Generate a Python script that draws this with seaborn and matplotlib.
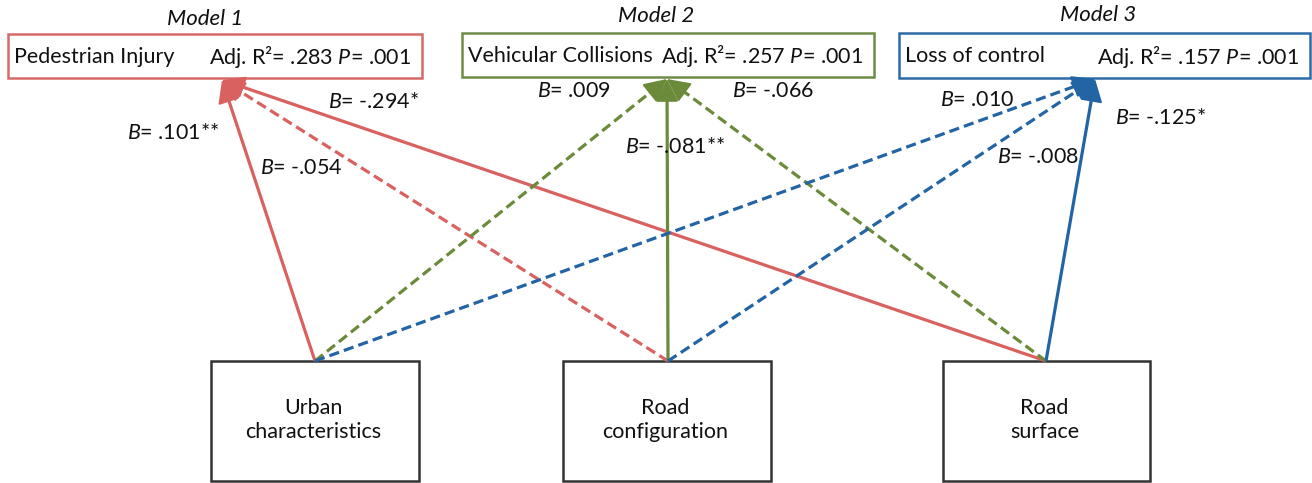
import numpy as np
import matplotlib
matplotlib.use("Agg")
import matplotlib.pyplot as plt
from matplotlib.patches import Rectangle
import seaborn as sns

# ---------------- data ----------------
models = ["Model 1", "Model 2", "Model 3"]
outcomes = ["Pedestrian Injury", "Vehicular Collisions", "Loss of control"]
adj_r2 = [".283", ".257", ".157"]
p_values = [".001", ".001", ".001"]
predictors = ["Urban\ncharacteristics", "Road\nconfiguration", "Road\nsurface"]
# coefficient labels: rows = models, cols = predictors
coef_model1 = [".101**", "-.054", "-.294*"]
coef_model2 = [".009", "-.081**", "-.066"]
coef_model3 = [".010", "-.008", "-.125*"]
coefs = [coef_model1, coef_model2, coef_model3]

# ---------------- layout / style ----------------
colors = ["#d9615f", "#6b8a3a", "#2364a5"]
border_colors = ["#d66a68", "#6e8c45", "#2e6aa6"]
top_boxes = [(8, 34, 414, 44), (462, 33, 412, 44), (899, 33, 411, 45)]
model_label_pos = [(205, 19), (656, 16), (1098, 15)]
targets = [(222, 80), (667, 79), (1095, 79)]
bottom_boxes = [(211, 361, 208, 120), (563, 361, 208, 120), (943, 361, 207, 120)]
sources = [(315, 361), (668, 361), (1046, 361)]
label_pos = [
    [(127, 133), (260, 168), (328, 102)],
    [(537, 91), (625, 147), (732, 91)],
    [(940, 100), (997, 157), (1115, 118)],
]

sns.set_theme(style="white")
plt.rcParams["font.family"] = ["Lato", "DejaVu Sans"]
plt.rcParams["mathtext.fontset"] = "custom"
plt.rcParams["mathtext.rm"] = "Lato"
plt.rcParams["mathtext.it"] = "Lato:italic"

W, H = 1312, 483
fig = plt.figure(figsize=(W / 100, H / 100), dpi=100)
ax = fig.add_axes([0, 0, 1, 1])
ax.set_xlim(0, W)
ax.set_ylim(H, 0)
ax.axis("off")

FS = 15.5
TXT = "#111111"

# bottom predictor boxes
for (x, y, w, h), name in zip(bottom_boxes, predictors):
    ax.add_patch(Rectangle((x, y), w, h, fill=True, facecolor="white",
                           edgecolor="#333333", lw=1.8, zorder=1))
    ax.text(x + w / 2 - 2, y + h / 2 - 1, name, ha="center", va="center",
            fontsize=FS, color=TXT, linespacing=1.2, zorder=2)

# top outcome boxes
for i in range(3):
    x, y, w, h = top_boxes[i]
    ax.add_patch(Rectangle((x, y), w, h, fill=True, facecolor="white",
                           edgecolor=border_colors[i], lw=1.8, zorder=1))
    ax.text(x + 6, y + h / 2 + 1, outcomes[i], ha="left", va="center",
            fontsize=FS, color=TXT, zorder=2)
    ax.text(x + w - 11, y + h / 2 + 1,
            f"Adj. R²= {adj_r2[i]} $P$= {p_values[i]}",
            ha="right", va="center", fontsize=FS, color=TXT, zorder=2)
    mx, my = model_label_pos[i]
    ax.text(mx, my, models[i], ha="center", va="center", fontsize=16,
            style="italic", color=TXT)

# arrows
for m in range(3):
    tx, ty = targets[m]
    for p in range(3):
        sx, sy = sources[p]
        sig = "*" in coefs[m][p]
        d = np.array([tx - sx, ty - sy], dtype=float)
        L = np.hypot(*d)
        u = d / L
        end = np.array([tx, ty]) - u * 12
        ax.plot([sx, end[0]], [sy, end[1]], color=colors[m], lw=2.3,
                linestyle="-" if sig else (0, (3.2, 1.6)),
                solid_capstyle="butt", dash_capstyle="butt", zorder=3)
        back = np.array([tx, ty]) - u * 22
        ax.annotate("", xy=(tx, ty), xytext=(back[0], back[1]),
                    arrowprops=dict(arrowstyle="-|>,head_length=0.7,head_width=0.35",
                                    mutation_scale=20, color=colors[m], lw=1.5,
                                    shrinkA=0, shrinkB=0),
                    zorder=4)
        lx, ly = label_pos[m][p]
        ax.text(lx, ly, f"$B$= {coefs[m][p]}", ha="left", va="center",
                fontsize=FS, color=TXT, zorder=5)

fig.savefig("out.png", dpi=100)
